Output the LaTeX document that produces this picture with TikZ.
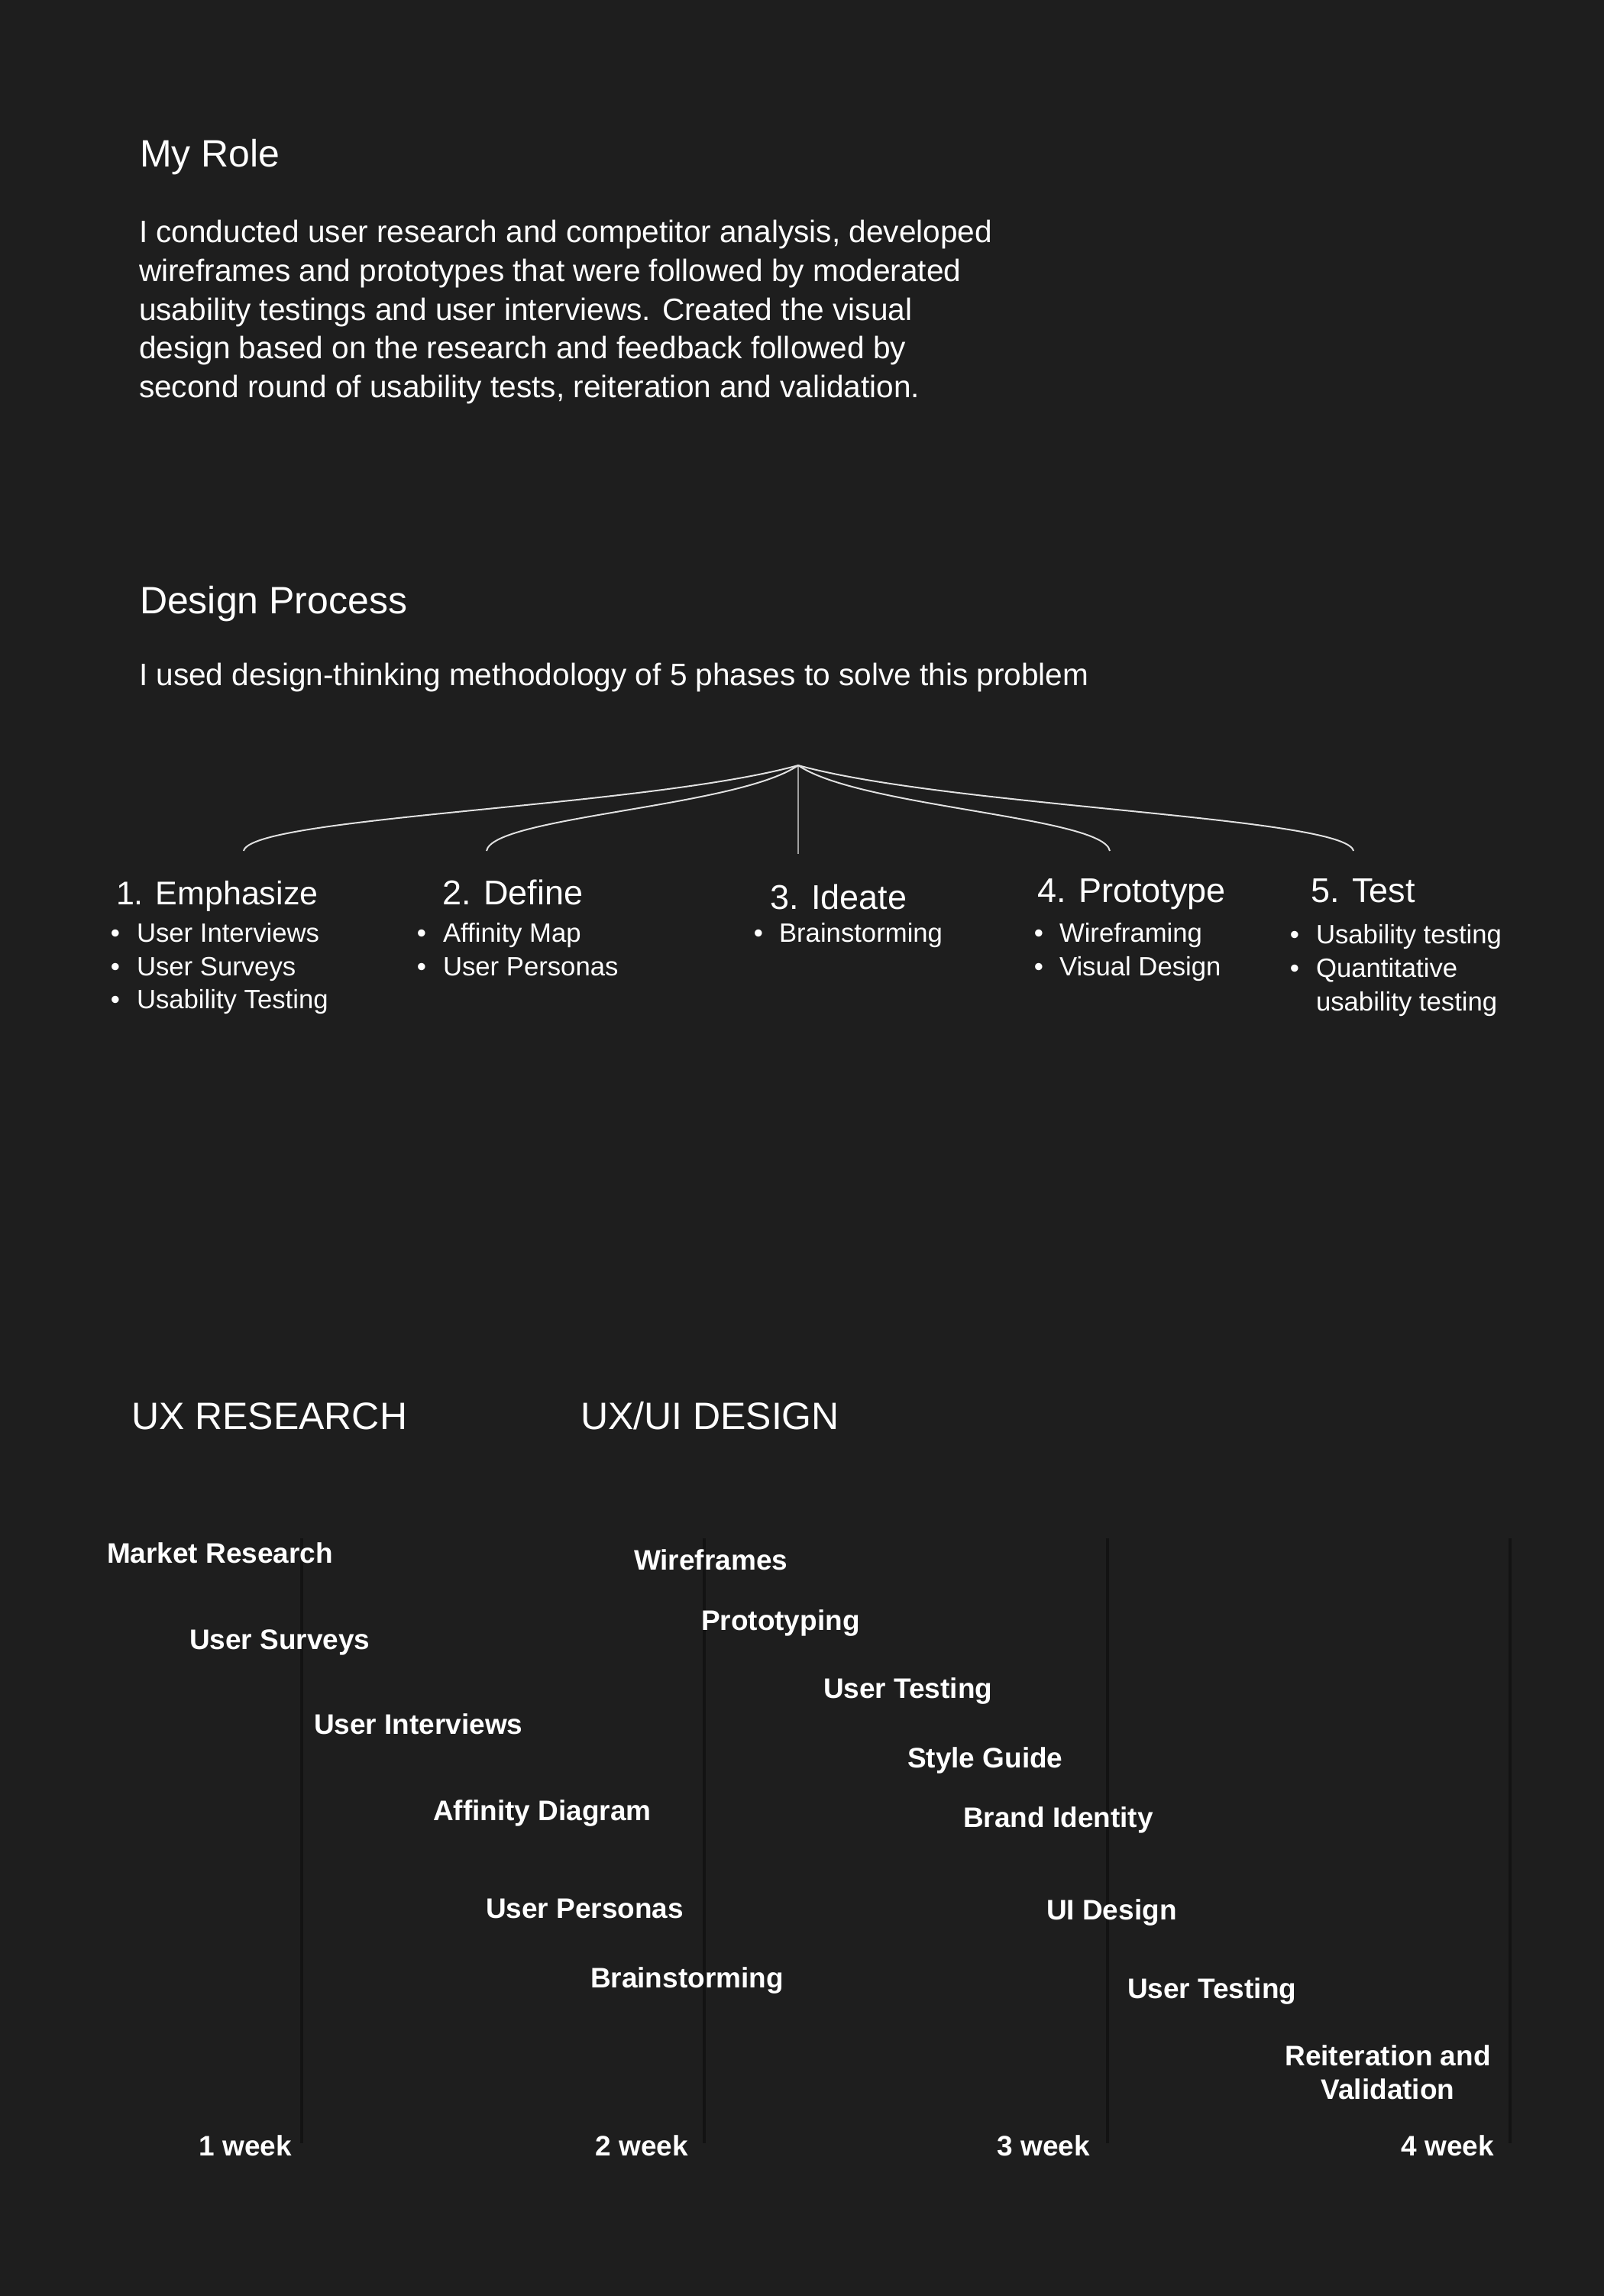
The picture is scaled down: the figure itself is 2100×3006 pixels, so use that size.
\documentclass[tikz,border=0pt]{standalone}
\usepackage{fontspec}
\setmainfont{Liberation Sans}
\definecolor{bg}{RGB}{30,30,30}
\definecolor{tline}{RGB}{19,19,19}
\definecolor{curvecol}{RGB}{225,225,225}
\definecolor{stemcol}{RGB}{160,160,160}
\begin{document}
\begin{tikzpicture}[x=1pt,y=-1pt,
  txt/.style={anchor=base west,inner sep=0pt,outer sep=0pt,text=white},
  heading/.style={txt,font=\fontsize{50}{60}\selectfont},
  para/.style={txt,font=\fontsize{40.6}{50}\selectfont},
  phase/.style={txt,font=\fontsize{45}{54}\selectfont},
  bulletitem/.style={txt,font=\fontsize{34.7}{43}\selectfont},
  bulletdot/.style={anchor=base,inner sep=0pt,outer sep=0pt,text=white,font=\fontsize{34.7}{43}\selectfont},
  task/.style={txt,font=\bfseries\fontsize{37}{44}\selectfont},
  taskc/.style={task,anchor=base},
  weekend/.style={task,anchor=base east},
  weekline/.style={draw=tline,line width=4pt},
  bracecurve/.style={draw=curvecol,line width=2pt},
  stemline/.style={draw=stemcol,line width=2.5pt},
]
\path[use as bounding box,fill=bg] (0,0) rectangle (2100,3006);

% ---- My Role
\node[heading] (myrole) at (183,218) {My Role};
\node[para] (p1) at (182,317) {I conducted user research and competitor analysis, developed};
\node[para] (p2) at (182,368) {wireframes and prototypes that were followed by moderated};
\node[para] (p3) at (182,419) {usability testings and user interviews. Created the visual};
\node[para] (p4) at (182,469) {design based on the research and feedback followed by};
\node[para] (p5) at (182,520) {second round of usability tests, reiteration and validation.};

% ---- Design Process
\node[heading] (dp) at (183,803) {Design Process};
\node[para] (dpt) at (182,897) {I used design-thinking methodology of 5 phases to solve this problem};

% ---- tree
\coordinate (apex) at (1045,1002);
\coordinate (stemend) at (1045,1118);
\coordinate (e1) at (319,1114);
\coordinate (e2) at (637,1114);
\coordinate (e4) at (1453,1114);
\coordinate (e5) at (1772,1114);
\draw[stemline] (apex) -- (stemend);
\draw[bracecurve] (apex) .. controls +(-200,55) and +(10,-45) .. (e1);
\draw[bracecurve] (apex) .. controls +(-80,55) and +(8,-45) .. (e2);
\draw[bracecurve] (apex) .. controls +(80,55) and +(-8,-45) .. (e4);
\draw[bracecurve] (apex) .. controls +(200,55) and +(-10,-45) .. (e5);

% ---- phases
\node[phase,font=\fontsize{43}{52}\selectfont] (ph1) at (152,1184) {1. Emphasize};
\node[phase] (ph2) at (579,1184) {2. Define};
\node[phase] (ph3) at (1008,1190) {3. Ideate};
\node[phase] (ph4) at (1358,1181) {4. Prototype};
\node[phase] (ph5) at (1716,1181) {5. Test};

\node[bulletdot] (d11) at (151,1233) {•};
\node[bulletitem] (i11) at (179,1233) {User Interviews};
\node[bulletdot] (d12) at (151,1277) {•};
\node[bulletitem] (i12) at (179,1277) {User Surveys};
\node[bulletdot] (d13) at (151,1320) {•};
\node[bulletitem] (i13) at (179,1320) {Usability Testing};

\node[bulletdot] (d21) at (552,1233) {•};
\node[bulletitem] (i21) at (580,1233) {Affinity Map};
\node[bulletdot] (d22) at (552,1277) {•};
\node[bulletitem] (i22) at (580,1277) {User Personas};

\node[bulletdot] (d31) at (993,1233) {•};
\node[bulletitem] (i31) at (1020,1233) {Brainstorming};

\node[bulletdot] (d41) at (1360,1233) {•};
\node[bulletitem] (i41) at (1387,1233) {Wireframing};
\node[bulletdot] (d42) at (1360,1277) {•};
\node[bulletitem] (i42) at (1387,1277) {Visual Design};

\node[bulletdot] (d51) at (1695,1235) {•};
\node[bulletitem] (i51) at (1723,1235) {Usability testing};
\node[bulletdot] (d52) at (1695,1279) {•};
\node[bulletitem] (i52) at (1723,1279) {Quantitative};
\node[bulletitem] (i53) at (1723,1323) {usability testing};

% ---- timeline
\node[heading] (uxr) at (172,1871) {UX RESEARCH};
\node[heading] (uxd) at (760,1871) {UX/UI DESIGN};

\coordinate (l1t) at (395,2014); \coordinate (l1b) at (395,2806);
\coordinate (l2t) at (922,2014); \coordinate (l2b) at (922,2806);
\coordinate (l3t) at (1450,2014); \coordinate (l3b) at (1450,2806);
\coordinate (l4t) at (1977,2014); \coordinate (l4b) at (1977,2806);
\draw[weekline] (l1t) -- (l1b);
\draw[weekline] (l2t) -- (l2b);
\draw[weekline] (l3t) -- (l3b);
\draw[weekline] (l4t) -- (l4b);

\node[task] (t1) at (140,2046) {Market Research};
\node[task] (t2) at (248,2159) {User Surveys};
\node[task] (t3) at (411,2270) {User Interviews};
\node[task] (t4) at (567,2383) {Affinity Diagram};
\node[task] (t5) at (636,2511) {User Personas};
\node[task] (t6) at (773,2602) {Brainstorming};
\node[task] (t7) at (830,2055) {Wireframes};
\node[task] (t8) at (918,2134) {Prototyping};
\node[task] (t9) at (1078,2223) {User Testing};
\node[task] (t10) at (1188,2314) {Style Guide};
\node[task] (t11) at (1261,2392) {Brand Identity};
\node[task] (t12) at (1370,2513) {UI Design};
\node[task] (t13) at (1476,2616) {User Testing};
\node[taskc] (t14) at (1817,2704) {Reiteration and};
\node[taskc] (t15) at (1817,2748) {Validation};

\node[weekend] (wk1) at (382,2822) {1 week};
\node[weekend] (wk2) at (901,2822) {2 week};
\node[weekend] (wk3) at (1427,2822) {3 week};
\node[weekend] (wk4) at (1956,2822) {4 week};
\end{tikzpicture}
\end{document}
